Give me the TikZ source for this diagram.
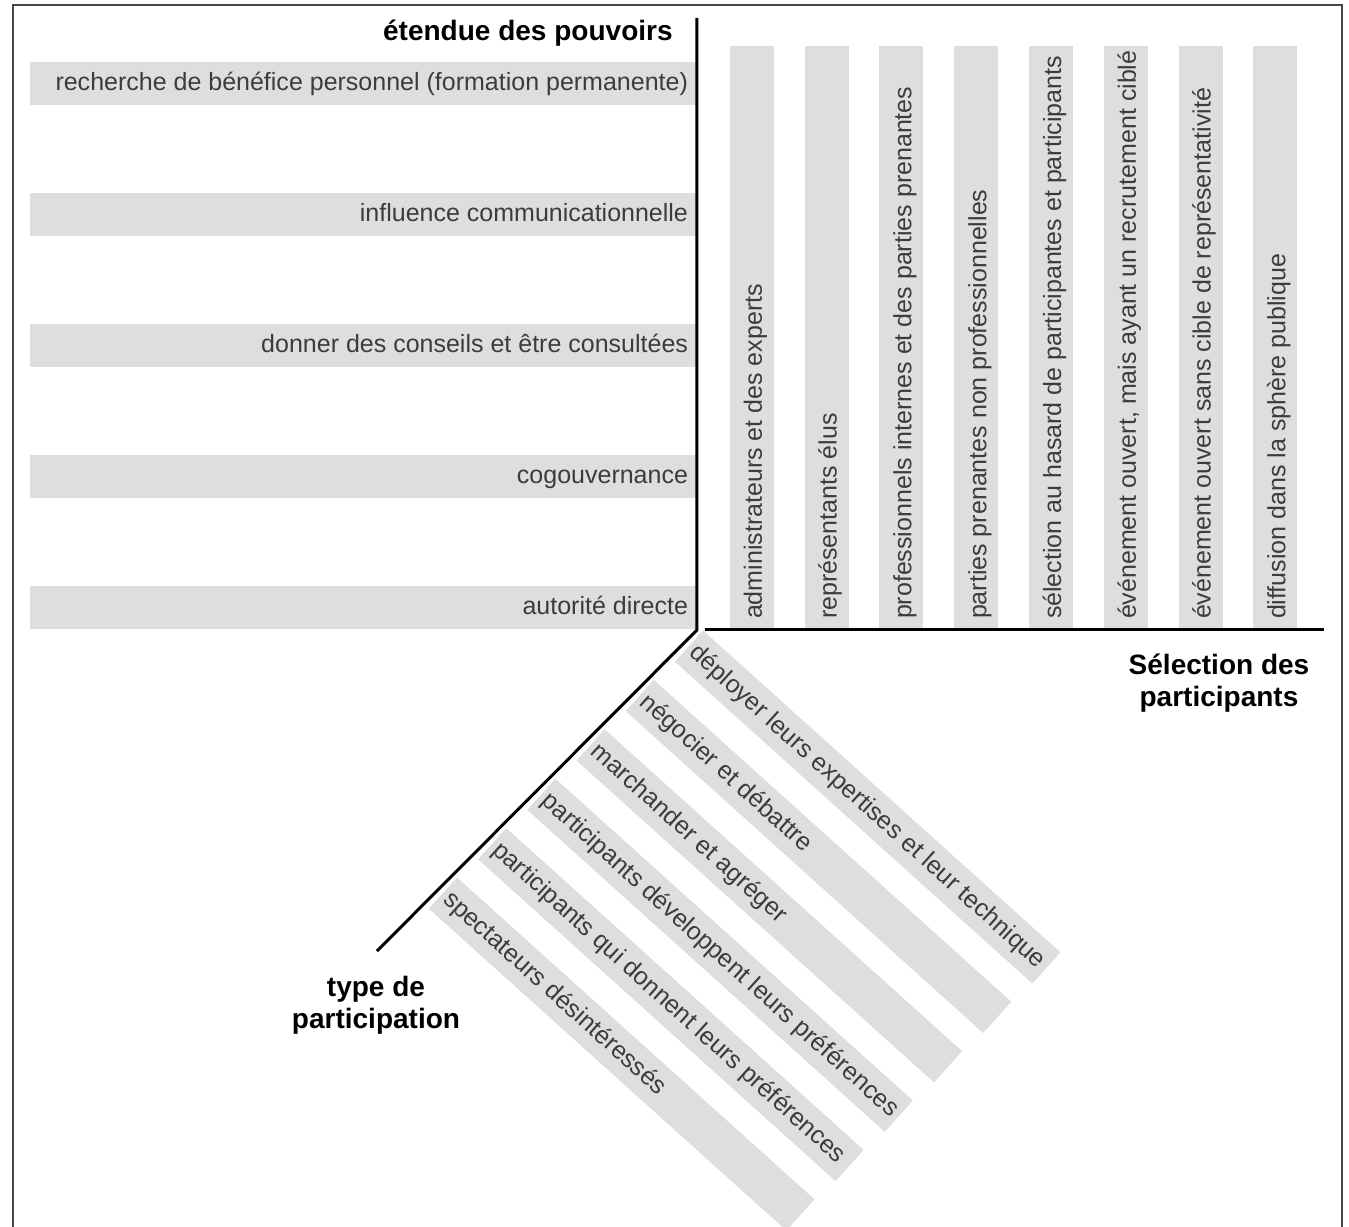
\documentclass[tikz,border=0pt]{standalone}
\usepackage{fontspec}
\setmainfont{Liberation Sans}
\usepackage{tikz}
\usetikzlibrary{positioning}
\usepackage{xcolor}
\definecolor{ppgray}{RGB}{222,222,224}
\definecolor{pptext}{RGB}{60,60,60}
\definecolor{ppframe}{RGB}{70,70,70}
\tikzstyle{rowbar} = [rectangle, minimum width=13.34cm, minimum height=0.86cm, fill=ppgray, inner sep=0pt]
\tikzstyle{colbar} = [rectangle, rotate=90, minimum width=11.64cm, minimum height=0.88cm, fill=ppgray, inner sep=0pt]
\tikzstyle{slantbar} = [rectangle, rotate=-42, minimum width=9.62cm, minimum height=0.84cm, fill=ppgray, inner sep=0pt]
\tikzstyle{bartext} = [text=pptext, font=\fontsize{14.23}{17}\selectfont, inner ysep=0pt, inner xsep=0.18cm, text height=0.36cm, text depth=0.06cm]
\tikzstyle{coltext} = [bartext, rotate=90, anchor=west, text height=0.4cm, text depth=0cm]
\tikzstyle{slanttext} = [bartext, rotate=-42, anchor=west, inner xsep=0.1cm, text depth=0.08cm]
\tikzstyle{axis} = [line width=0.06cm, black]
\tikzstyle{axistitle} = [font=\bfseries\fontsize{15.94}{18.5}\selectfont, align=center, inner sep=0pt]

\begin{document}
\begin{tikzpicture}[node distance=2.62cm]
\fill[white] (-13.94,-11.94) rectangle (13.04,12.6);
\useasboundingbox (-13.94,-11.94) rectangle (13.04,12.6);
\draw[ppframe, line width=0.04cm] (-13.68,-11.94) -- (-13.68,12.5) -- (12.9,12.5) -- (12.9,-11.94);

% Pouvoirs
\node (benefice) [rowbar] at (-6.67,10.93) {};
\node (influence) [rowbar, below of=benefice] {};
\node (conseils) [rowbar, below of=influence] {};
\node (cogouv) [rowbar, below of=conseils] {};
\node (autorite) [rowbar, below of=cogouv] {};
\node [bartext, anchor=east] at (benefice.east) {recherche de bénéfice personnel (formation permanente)};
\node [bartext, anchor=east] at (influence.east) {influence communicationnelle};
\node [bartext, anchor=east] at (conseils.east) {donner des conseils et être consultées};
\node [bartext, anchor=east] at (cogouv.east) {cogouvernance};
\node [bartext, anchor=east] at (autorite.east) {autorité directe};

% Selection
\node (admins) [colbar] at (1.1,5.86) {};
\node (elus) [colbar] at (2.595,5.86) {};
\node (internes) [colbar] at (4.09,5.86) {};
\node (prenantes) [colbar] at (5.585,5.86) {};
\node (hasard) [colbar] at (7.08,5.86) {};
\node (cible) [colbar] at (8.575,5.86) {};
\node (sanscible) [colbar] at (10.07,5.86) {};
\node (diffusion) [colbar] at (11.565,5.86) {};
\node [coltext] at (admins.west) {administrateurs et des experts};
\node [coltext] at (elus.west) {représentants élus};
\node [coltext] at (internes.west) {professionnels internes et des parties prenantes};
\node [coltext] at (prenantes.west) {parties prenantes non professionnelles};
\node [coltext] at (hasard.west) {sélection au hasard de participantes et participants};
\node [coltext] at (cible.west) {événement ouvert, mais ayant un recrutement ciblé};
\node [coltext] at (sanscible.west) {événement ouvert sans cible de représentativité};
\node [coltext] at (diffusion.west) {diffusion dans la sphère publique};

% Participation
\node (expertise) [slantbar, anchor=north west] at (0.12,0) {};
\node (negocier) [slantbar, anchor=north west] at (-0.864,-0.988) {};
\node (marchander) [slantbar, anchor=north west] at (-1.848,-1.976) {};
\node (developpent) [slantbar, anchor=north west] at (-2.832,-2.964) {};
\node (donnent) [slantbar, anchor=north west] at (-3.816,-3.952) {};
\node (spectateurs) [slantbar, anchor=north west] at (-4.8,-4.94) {};
\node [slanttext] at (expertise.west) {déployer leurs expertises et leur technique};
\node [slanttext] at (negocier.west) {négocier et débattre};
\node [slanttext] at (marchander.west) {marchander et agréger};
\node [slanttext] at (developpent.west) {participants développent leurs préférences};
\node [slanttext] at (donnent.west) {participants qui donnent leurs préférences};
\node [slanttext] at (spectateurs.west) {spectateurs désintéressés};

% Axes
\coordinate (origin) at (0,0);
\coordinate (powtop) at (0,12.24);
\coordinate (typend) at (-6.4,-6.42);
\coordinate (selstart) at (0.16,0);
\coordinate (selend) at (12.54,0);
\draw[axis] (powtop) -- (origin) -- (typend);
\draw[axis] (selstart) -- (selend);

% Axis titles
\node (powtitle) [axistitle, anchor=base east] at (-0.48,11.78) {étendue des pouvoirs};
\node (seltitle) [axistitle, anchor=base] at (10.44,-1.54) {Sélection des\\participants};
\node (typtitle) [axistitle, anchor=base] at (-6.42,-7.98) {type de\\participation};
\end{tikzpicture}
\end{document}
